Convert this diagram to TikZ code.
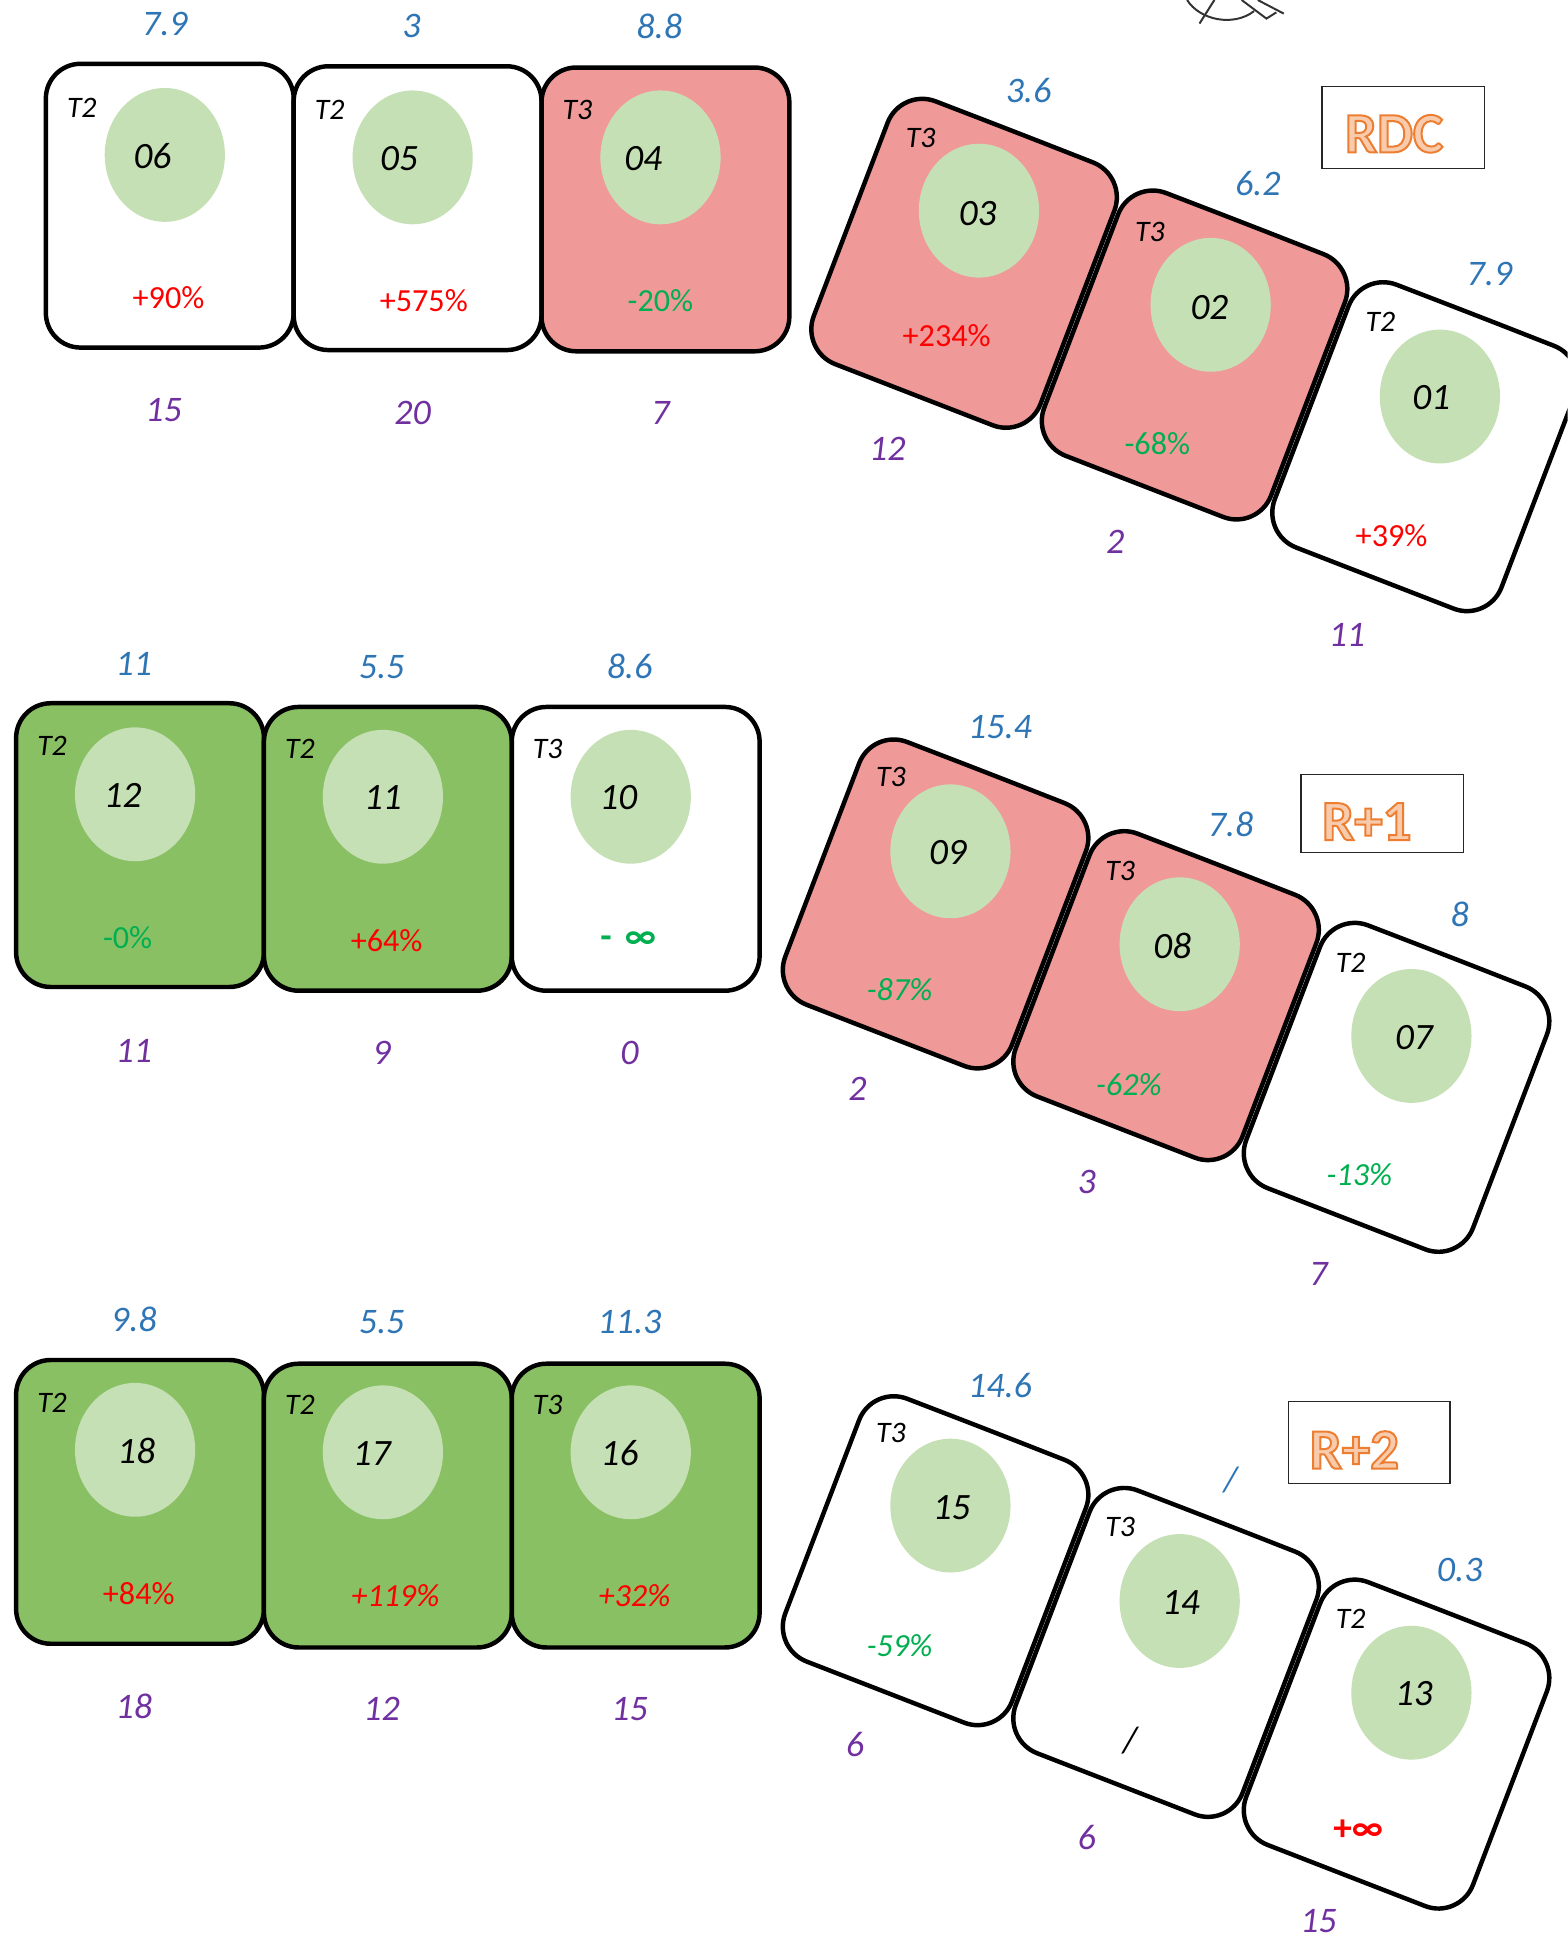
\documentclass[tikz,border=0pt]{standalone}
\usepackage{fontspec}
\setmainfont{Carlito}
\usetikzlibrary{shapes.geometric}
\definecolor{numblue}{HTML}{2E75B6}
\definecolor{numpurple}{HTML}{7030A0}
\definecolor{pctred}{HTML}{FF0000}
\definecolor{pctgreen}{HTML}{00B050}
\definecolor{pinkc}{HTML}{F09999}
\definecolor{boxgreen}{HTML}{8AC064}
\definecolor{ellgreen}{HTML}{C5E0B4}
\definecolor{orfill}{HTML}{F8CBAD}
\newcommand\outlined[1]{\special{pdf:literal direct 2 Tr 1.6 w 0.929 0.490 0.192 RG}#1\special{pdf:literal direct 0 Tr}}
\tikzset{
 every node/.style={inner sep=0pt},
 ubox/.style={draw=black, line width=3.6pt, rounded corners=28pt, minimum width=200pt, minimum height=229pt},
 tboxs/.style={draw=black, line width=3.6pt, rounded corners=30pt},
 ell/.style={ellipse, fill=ellgreen, minimum width=97pt, minimum height=108pt},
 topn/.style={text=numblue, font=\fontsize{29}{30}\selectfont\itshape},
 botn/.style={text=numpurple, font=\fontsize{29}{30}\selectfont\itshape},
 tlab/.style={font=\fontsize{24}{26}\selectfont\itshape},
 idlab/.style={font=\fontsize{30}{32}\selectfont\itshape},
 pct/.style={font=\fontsize{26}{28}\selectfont},
 pcti/.style={font=\fontsize{26}{28}\selectfont\itshape},
 pinf/.style={font=\fontsize{30}{32}\selectfont\bfseries},
 pr/.style={text=pctred}, pg/.style={text=pctgreen},
 lbox/.style={draw=black!85, line width=1.2pt},
 rlab/.style={text=orfill, font=\fontsize{46}{48}\selectfont\bfseries},
}
% tilted box: name, top-left x, top-left y, fill
\newcommand\tbox[4]{%
 \draw[tboxs, fill=#4] (#2+91,#3+35) -- ++(92,36) -- ++(-81,212) -- ++(-183,-71) -- ++(81,-212) -- cycle;
 \coordinate (#1) at (#2,#3);}
\begin{document}
\begin{tikzpicture}[x=1pt,y=-1pt]
\useasboundingbox (0,0) rectangle (1265,1568);
\fill[white] (0,0) rectangle (1265,1568);
\clip (0,0) rectangle (1265,1568);

% ---------- partial icon top ----------
\draw[line width=1.6pt, black!80] (958,0) .. controls (968,16) and (995,22) .. (1012,9);
\draw[line width=1.6pt, black!80] (980,0) -- (968,19);
\draw[line width=1.6pt, black!80] (1002,0) -- (1022,15) -- (1030,10);
\draw[line width=1.6pt, black!80] (1015,0) -- (1036,11);

% ================= ROW 1 =================
\node[ubox, fill=white] (b06) at (137,166) {};
\node[ubox, fill=white] (b05) at (337,168) {};
\node[ubox, fill=pinkc] (b04) at (537,169) {};
\node[ell] (e06) at (133,125) {};
\node[ell] (e05) at (333,127) {};
\node[ell] (e04) at (533,127) {};
\node[tlab] (t06) at (66,87) {T2};
\node[tlab] (t05) at (266,89) {T2};
\node[tlab] (t04) at (466,89) {T3};
\node[idlab] (i06) at (123,126) {06};
\node[idlab] (i05) at (322,128) {05};
\node[idlab] (i04) at (519,128) {04};
\node[pct,pr] (p06) at (136,240) {+90\%};
\node[pct,pr] (p05) at (342,243) {+575\%};
\node[pct,pg] (p04) at (533,243) {-20\%};
\node[topn] (a06) at (133,19) {7.9};
\node[topn] (a05) at (332,21) {3};
\node[topn] (a04) at (532,21) {8.8};
\node[botn] (z06) at (132,331) {15};
\node[botn] (z05) at (333,333) {20};
\node[botn] (z04) at (533,333) {7};

\tbox{b03}{727}{71}{pinkc}
\tbox{b02}{913}{145}{pinkc}
\tbox{b01}{1099}{219}{white}
\node[ell] (e03) at (790,170) {};
\node[ell] (e02) at (977,246) {};
\node[ell] (e01) at (1162,320) {};
\node[tlab] (t03) at (743,111) {T3};
\node[tlab] (t02) at (928,187) {T3};
\node[tlab] (t01) at (1114,260) {T2};
\node[idlab] (i03) at (789,172) {03};
\node[idlab] (i02) at (976,248) {02};
\node[idlab] (i01) at (1155,321) {01};
\node[pct,pr] (p03) at (764,271) {+234\%};
\node[pct,pg] (p02) at (934,358) {-68\%};
\node[pct,pr] (p01) at (1123,432) {+39\%};
\node[topn] (a03) at (830,73) {3.6};
\node[topn] (a02) at (1015,148) {6.2};
\node[topn] (a01) at (1202,221) {7.9};
\node[botn] (z03) at (716,362) {12};
\node[botn] (z02) at (900,437) {2};
\node[botn] (z01) at (1087,512) {11};
\node[lbox, minimum width=131pt, minimum height=66pt] (rdcbox) at (1132.5,103) {};
\node[rlab] (rdc) at (1125,108) {\outlined{RDC}};

% ================= ROW 2 =================
\node[ubox, fill=boxgreen] (b12) at (113,682) {};
\node[ubox, fill=boxgreen] (b11) at (313,685) {};
\node[ubox, fill=white] (b10) at (513,685) {};
\node[ell] (e12) at (109,641) {};
\node[ell] (e11) at (309,643) {};
\node[ell] (e10) at (509,643) {};
\node[tlab] (t12) at (42,602) {T2};
\node[tlab] (t11) at (242,604) {T2};
\node[tlab] (t10) at (442,604) {T3};
\node[idlab] (i12) at (99,642) {12};
\node[idlab] (i11) at (309,644) {11};
\node[idlab] (i10) at (499,644) {10};
\node[pct,pg] (p12) at (103,757) {-0\%};
\node[pct,pr] (p11) at (312,759) {+64\%};
\node[pinf,pg] (p10) at (507,759) {-\hspace{0.35em}∞};
\node[topn] (a12) at (108,536) {11};
\node[topn] (a11) at (308,538) {5.5};
\node[topn] (a10) at (508,538) {8.6};
\node[botn] (z12) at (108,848) {11};
\node[botn] (z11) at (308,850) {9};
\node[botn] (z10) at (508,850) {0};

\tbox{b09}{704}{588}{pinkc}
\tbox{b08}{890}{662}{pinkc}
\tbox{b07}{1076}{736}{white}
\node[ell] (e09) at (767,687) {};
\node[ell] (e08) at (952,762) {};
\node[ell] (e07) at (1139,836) {};
\node[tlab] (t09) at (719,627) {T3};
\node[tlab] (t08) at (904,703) {T3};
\node[tlab] (t07) at (1090,777) {T2};
\node[idlab] (i09) at (765,688) {09};
\node[idlab] (i08) at (946,763) {08};
\node[idlab] (i07) at (1141,837) {07};
\node[pcti,pg] (p09) at (726,799) {-87\%};
\node[pcti,pg] (p08) at (911,875) {-62\%};
\node[pcti,pg] (p07) at (1097,948) {-13\%};
\node[topn] (a09) at (807,587) {15.4};
\node[topn] (a08) at (993,665) {7.8};
\node[topn] (a07) at (1178,738) {8};
\node[botn] (z09) at (692,879) {2};
\node[botn] (z08) at (877,954) {3};
\node[botn] (z07) at (1064,1028) {7};
\node[lbox, minimum width=131pt, minimum height=63pt] (r1box) at (1115.5,656.5) {};
\node[rlab] (r1) at (1103,663) {\outlined{R+1}};

% ================= ROW 3 =================
\node[ubox, fill=boxgreen] (b18) at (113,1212) {};
\node[ubox, fill=boxgreen] (b17) at (313,1215) {};
\node[ubox, fill=boxgreen] (b16) at (513,1215) {};
\node[ell] (e18) at (109,1170) {};
\node[ell] (e17) at (309,1172) {};
\node[ell] (e16) at (509,1172) {};
\node[tlab] (t18) at (42,1132) {T2};
\node[tlab] (t17) at (242,1134) {T2};
\node[tlab] (t16) at (442,1134) {T3};
\node[idlab] (i18) at (110,1171) {18};
\node[idlab] (i17) at (300,1173) {17};
\node[idlab] (i16) at (500,1173) {16};
\node[pct,pr] (p18) at (112,1286) {+84\%};
\node[pcti,pr] (p17) at (319,1288) {+119\%};
\node[pcti,pr] (p16) at (512,1288) {+32\%};
\node[topn] (a18) at (108,1065) {9.8};
\node[topn] (a17) at (308,1067) {5.5};
\node[topn] (a16) at (508,1067) {11.3};
\node[botn] (z18) at (108,1377) {18};
\node[botn] (z17) at (308,1379) {12};
\node[botn] (z16) at (508,1379) {15};

\tbox{b15}{704}{1118}{white}
\tbox{b14}{890}{1192}{white}
\tbox{b13}{1076}{1266}{white}
\node[ell] (e15) at (767,1215) {};
\node[ell] (e14) at (952,1292) {};
\node[ell] (e13) at (1139,1366) {};
\node[tlab] (t15) at (719,1156) {T3};
\node[tlab] (t14) at (904,1232) {T3};
\node[tlab] (t13) at (1090,1306) {T2};
\node[idlab] (i15) at (768,1217) {15};
\node[idlab] (i14) at (953,1293) {14};
\node[idlab] (i13) at (1141,1367) {13};
\node[pcti,pg] (p15) at (726,1328) {-59\%};
\node[idlab] (p14) at (912,1405) {/};
\node[pinf,pr] (p13) at (1096,1477) {+∞};
\node[topn] (a15) at (807,1118) {14.6};
\node[topn] (a14) at (993,1194) {/};
\node[topn] (a13) at (1178,1267) {0.3};
\node[botn] (z15) at (690,1408) {6};
\node[botn] (z14) at (877,1483) {6};
\node[botn] (z13) at (1064,1550) {15};
\node[lbox, minimum width=130pt, minimum height=66pt] (r2box) at (1105,1164) {};
\node[rlab] (r2) at (1093,1170) {\outlined{R+2}};
\end{tikzpicture}
\end{document}
